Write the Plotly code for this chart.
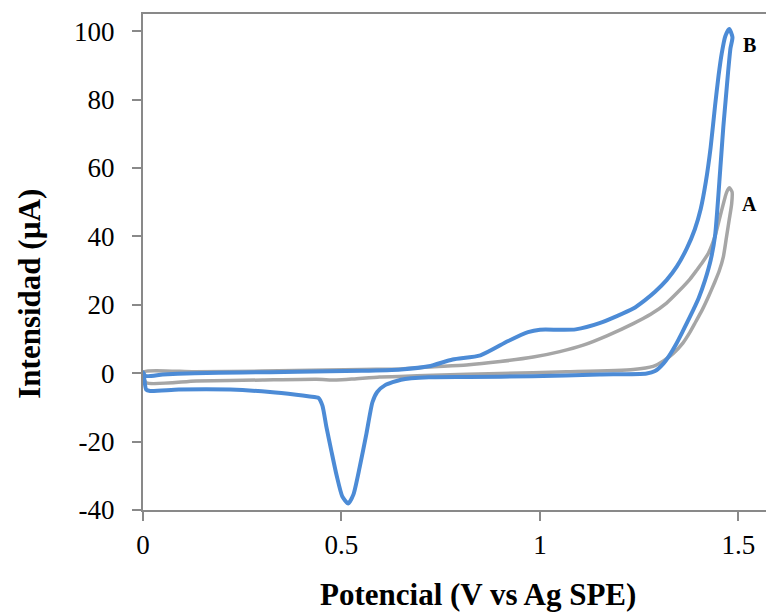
import plotly.graph_objects as go

# Cyclic voltammograms: potential (V vs Ag SPE) and current (µA)
# Curve A
pot_a = [0.000, 0.13, 0.30, 0.55, 0.65, 0.72, 0.815, 0.90, 0.983, 1.05, 1.109, 1.17,
         1.235, 1.28, 1.319, 1.35, 1.378, 1.395, 1.41, 1.424, 1.441, 1.452, 1.462,
         1.470, 1.477, 1.484,
         1.483, 1.477, 1.470, 1.462, 1.452, 1.44, 1.425, 1.41, 1.39, 1.378, 1.36,
         1.336, 1.31, 1.285, 1.235, 1.067, 0.899, 0.731, 0.647, 0.596, 0.53, 0.487,
         0.437, 0.302, 0.134, 0.008, 0.000]
cur_a = [0.3, 0.4, 0.6, 1.1, 1.2, 1.8, 2.4, 3.4, 4.7, 6.3, 8.2, 11.0,
         14.5, 17.3, 20.5, 24.0, 27.5, 30.1, 32.5, 35.0, 40.0, 45.0, 49.5,
         52.8, 54.2, 53.0,
         49.5, 45.0, 39.8, 34.0, 30.0, 26.5, 22.5, 18.8, 14.5, 12.0, 8.8,
         5.8, 3.5, 2.0, 1.1, 0.4, -0.1, -0.6, -1.0, -1.1, -1.7, -2.0,
         -1.8, -2.0, -2.3, -2.8, 0.3]

# Curve B
pot_b = [0.000, 0.006, 0.05, 0.13, 0.25, 0.39, 0.55, 0.65, 0.72, 0.78, 0.85, 0.92,
         0.97, 1.00, 1.05, 1.09, 1.15, 1.235, 1.264, 1.29, 1.319, 1.345, 1.37, 1.39,
         1.405, 1.418, 1.430, 1.441, 1.450, 1.458, 1.467, 1.477, 1.485,
         1.480, 1.474, 1.468, 1.462, 1.457, 1.452, 1.447, 1.441, 1.43, 1.416, 1.40,
         1.378, 1.36, 1.344, 1.325, 1.311, 1.29, 1.269, 1.15, 0.98, 0.82, 0.72, 0.65,
         0.61, 0.59, 0.578, 0.563, 0.546, 0.530, 0.517, 0.502, 0.488, 0.475, 0.462,
         0.452, 0.442, 0.42, 0.386, 0.32, 0.22, 0.09, 0.018, 0.008, 0.003, 0.000]
cur_b = [0.3, -0.8, -0.4, 0.0, 0.2, 0.4, 0.7, 1.1, 2.0, 4.0, 5.2, 9.4,
         12.0, 12.7, 12.7, 12.8, 14.6, 18.9, 21.3, 23.8, 27.2, 31.2, 36.5, 42.0,
         48.0, 56.0, 66.0, 78.0, 87.0, 93.5, 98.5, 100.6, 98.2,
         95.0, 88.0, 80.0, 72.0, 64.0, 56.0, 48.0, 40.0, 33.0, 27.2, 22.0,
         16.5, 12.3, 8.7, 5.0, 2.8, 0.6, -0.1, -0.4, -0.9, -1.1, -1.2, -1.9,
         -3.5, -5.5, -8.5, -17.6, -27.4, -35.5, -38.1, -36.0, -30.0, -23.0, -15.7,
         -9.5, -7.2, -6.8, -6.3, -5.5, -4.8, -4.8, -5.2, -4.8, -1.5, 0.3]

x_ticks = [0, 0.5, 1, 1.5]
x_tick_text = ["0", "0.5", "1", "1.5"]
y_ticks = [-40, -20, 0, 20, 40, 60, 80, 100]
y_tick_text = ["-40", "-20", "0", "20", "40", "60", "80", "100"]

serif = "Liberation Serif, Times New Roman, serif"
axis_gray = "#898989"

fig = go.Figure()
fig.add_trace(go.Scatter(x=pot_a, y=cur_a, mode="lines", name="A",
                         line=dict(color="#A6A6A6", width=3.5, shape="spline", smoothing=0.6)))
fig.add_trace(go.Scatter(x=pot_b, y=cur_b, mode="lines", name="B",
                         line=dict(color="#4C8BD6", width=4, shape="spline", smoothing=0.6)))

fig.update_layout(
    width=766, height=612,
    margin=dict(l=143, r=0, t=14, b=102),
    paper_bgcolor="white", plot_bgcolor="white",
    showlegend=False,
    font=dict(family=serif, color="black"),
)
fig.update_xaxes(
    range=[0, 1.5695], tickvals=x_ticks, ticktext=x_tick_text,
    showgrid=False, zeroline=False,
    showline=True, linecolor=axis_gray, linewidth=2, mirror=True,
    ticks="outside", ticklen=9, tickwidth=1.5, tickcolor=axis_gray,
    tickfont=dict(family=serif, size=27, color="black"),
    ticklabelstandoff=1,
)
fig.update_yaxes(
    range=[-40, 105], tickvals=y_ticks, ticktext=y_tick_text,
    showgrid=False, zeroline=False,
    showline=True, linecolor=axis_gray, linewidth=2,
    ticks="outside", ticklen=9, tickwidth=1.5, tickcolor=axis_gray,
    tickfont=dict(family=serif, size=27, color="black"),
    ticklabelstandoff=12,
)

title_font = dict(family=serif, size=31, color="black", weight="bold")
fig.add_annotation(text="Potencial (V vs Ag SPE)", xref="paper", yref="paper",
                   x=0.5377, y=-0.171, xanchor="center", yanchor="middle",
                   showarrow=False, font=title_font)
fig.add_annotation(text="Intensidad (µA)", xref="paper", yref="paper",
                   x=-0.1814, y=0.436, xanchor="center", yanchor="middle",
                   textangle=-90, showarrow=False, font=title_font)

label_font = dict(family=serif, size=20, color="black", weight="bold")
fig.add_annotation(text="B", x=1.527, y=95.8, xref="x", yref="y",
                   showarrow=False, font=label_font)
fig.add_annotation(text="A", x=1.527, y=49.6, xref="x", yref="y",
                   showarrow=False, font=label_font)

fig.write_html("out.html")
